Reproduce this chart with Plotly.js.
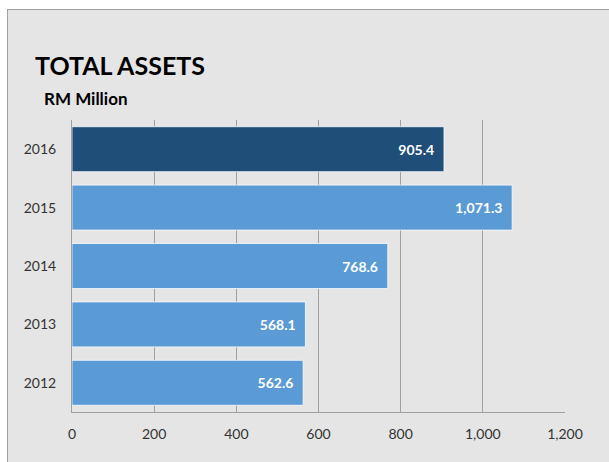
<!DOCTYPE html>
<html>
<head>
<meta charset="utf-8">
<script src="https://cdn.plot.ly/plotly-3.0.1.min.js"></script>
<style>
html,body{margin:0;padding:0;background:#ffffff;width:609px;height:462px;overflow:hidden;}
#chart{position:absolute;left:7px;top:9px;width:601px;height:452px;border-top:1px solid #a0a0a0;border-left:1px solid #a0a0a0;background:#e5e5e5;}
</style>
</head>
<body>
<div id="chart"></div>
<script>
const years = ['2012', '2013', '2014', '2015', '2016'];
const values = [562.6, 568.1, 768.6, 1071.3, 905.4];
const barColors = ['#5b9bd5', '#5b9bd5', '#5b9bd5', '#5b9bd5', '#1f4e79'];
const xTicks = [0, 200, 400, 600, 800, 1000, 1200];
const titleText = 'TOTAL ASSETS';
const subtitleText = 'RM Million';

const trace = {
  type: 'bar',
  orientation: 'h',
  y: years,
  x: values,
  marker: {color: barColors, line: {color: 'rgba(255,255,255,0.75)', width: 1}},
  texttemplate: '%{x:,.1f}\u00a0\u00a0',
  textposition: 'inside',
  insidetextanchor: 'end',
  textfont: {family: 'Lato, sans-serif', size: 14, color: '#ffffff', weight: 'bold'},
  hoverinfo: 'none',
  cliponaxis: false
};

const layout = {
  width: 601, height: 452,
  margin: {l: 63.5, r: 44, t: 110, b: 50, pad: 0},
  paper_bgcolor: '#e5e5e5',
  plot_bgcolor: '#e5e5e5',
  showlegend: false,
  bargap: 0.23,
  separators: '.,',
  font: {family: 'Lato, sans-serif', color: '#404040', size: 14},
  title: {
    text: titleText,
    font: {family: 'Lato, sans-serif', size: 25, color: '#000000', weight: 'bold'},
    xref: 'container', yref: 'container',
    x: 0.045, xanchor: 'left',
    y: 0.876, yanchor: 'middle'
  },
  annotations: [{
    text: subtitleText,
    xref: 'paper', yref: 'paper',
    x: -0.0618, xanchor: 'left',
    y: 1.075, yanchor: 'middle',
    showarrow: false,
    font: {family: 'Lato, sans-serif', size: 17, color: '#000000', weight: 'bold'}
  }],
  xaxis: {
    range: [0, 1200],
    tickvals: xTicks,
    tickformat: ',d',
    showgrid: true,
    gridcolor: '#a0a0a0',
    gridwidth: 1,
    zeroline: false,
    showline: true,
    linecolor: '#a0a0a0',
    linewidth: 1,
    ticks: '',
    ticklabelstandoff: 9,
    tickfont: {size: 14, color: '#333333'},
    fixedrange: true
  },
  yaxis: {
    type: 'category',
    showgrid: false,
    zeroline: false,
    showline: true,
    linecolor: '#a0a0a0',
    linewidth: 1,
    ticks: '',
    ticklabelstandoff: 12,
    tickfont: {size: 14, color: '#333333'},
    fixedrange: true
  }
};

Plotly.newPlot('chart', [trace], layout, {displayModeBar: false, staticPlot: true});
</script>
</body>
</html>
